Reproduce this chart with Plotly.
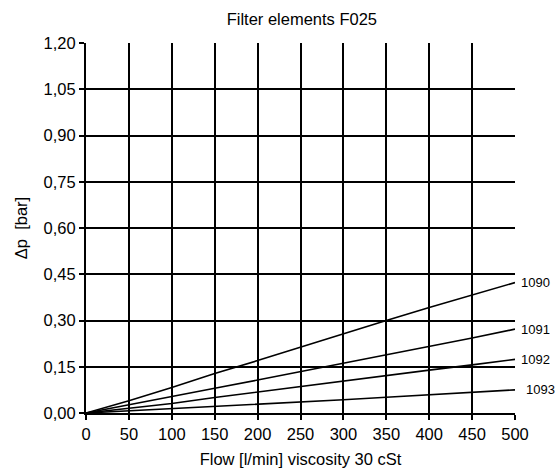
import plotly.graph_objects as go

flow = [0, 50, 100, 150, 200, 250, 300, 350, 400, 450, 500]
dp_1090 = [0, 0.040, 0.083, 0.128, 0.170, 0.214, 0.257, 0.300, 0.342, 0.383, 0.423]
dp_1091 = [0, 0.026, 0.053, 0.080, 0.107, 0.134, 0.161, 0.188, 0.215, 0.243, 0.272]
dp_1092 = [0, 0.015, 0.031, 0.050, 0.068, 0.087, 0.105, 0.122, 0.139, 0.156, 0.174]
dp_1093 = [0, 0.007, 0.013, 0.020, 0.027, 0.035, 0.043, 0.051, 0.059, 0.067, 0.075]
series = {"1090": dp_1090, "1091": dp_1091, "1092": dp_1092, "1093": dp_1093}
label_shift = {"1090": 4, "1091": 4, "1092": 4, "1093": 9}

x_ticks = [0, 50, 100, 150, 200, 250, 300, 350, 400, 450, 500]
y_ticks = [0, 0.15, 0.30, 0.45, 0.60, 0.75, 0.90, 1.05, 1.20]

fig = go.Figure()
for name, vals in series.items():
    fig.add_trace(go.Scatter(x=flow, y=vals, mode="lines", name=name,
                             line=dict(color="black", width=1.6), showlegend=False))
    fig.add_annotation(x=flow[-1], y=vals[-1], text=name, showarrow=False,
                       xanchor="left", yanchor="middle", xshift=label_shift[name],
                       font=dict(size=13, color="black"))

font_family = "Liberation Sans, Arial, sans-serif"
fig.update_layout(
    width=559, height=471,
    margin=dict(l=86, r=44, t=43, b=58),
    paper_bgcolor="white", plot_bgcolor="white",
    separators=",.",
    font=dict(family=font_family, color="black", size=16),
    title=dict(text="Filter elements F025", x=0.54, xanchor="center",
               y=0.96, yanchor="middle", font=dict(size=16.5)),
)
fig.update_xaxes(range=[0, 500], tickvals=x_ticks, showgrid=True, automargin=False,
                 gridcolor="black", gridwidth=1.5, showline=True,
                 linecolor="black", linewidth=2, mirror=False,
                 ticks="outside", ticklen=5, tickcolor="black", tickwidth=1.5,
                 zeroline=False, tickfont=dict(size=16.5),
                 title=dict(text="Flow [l/min] viscosity 30 cSt", font=dict(size=16.5), standoff=12))
fig.update_yaxes(range=[0, 1.2], tickvals=y_ticks, tickformat=".2f", showgrid=True, automargin=False,
                 gridcolor="black", gridwidth=1.5, showline=True,
                 linecolor="black", linewidth=2,
                 ticks="outside", ticklen=5, tickcolor="black", tickwidth=1.5,
                 zeroline=False, tickfont=dict(size=16.5),
                 title=dict(text="Δp  [bar]", font=dict(size=16.5), standoff=12))

fig.write_html("out.html", config={"displayModeBar": False},
               post_script="document.body.style.margin='0';document.body.style.overflow='hidden';")
